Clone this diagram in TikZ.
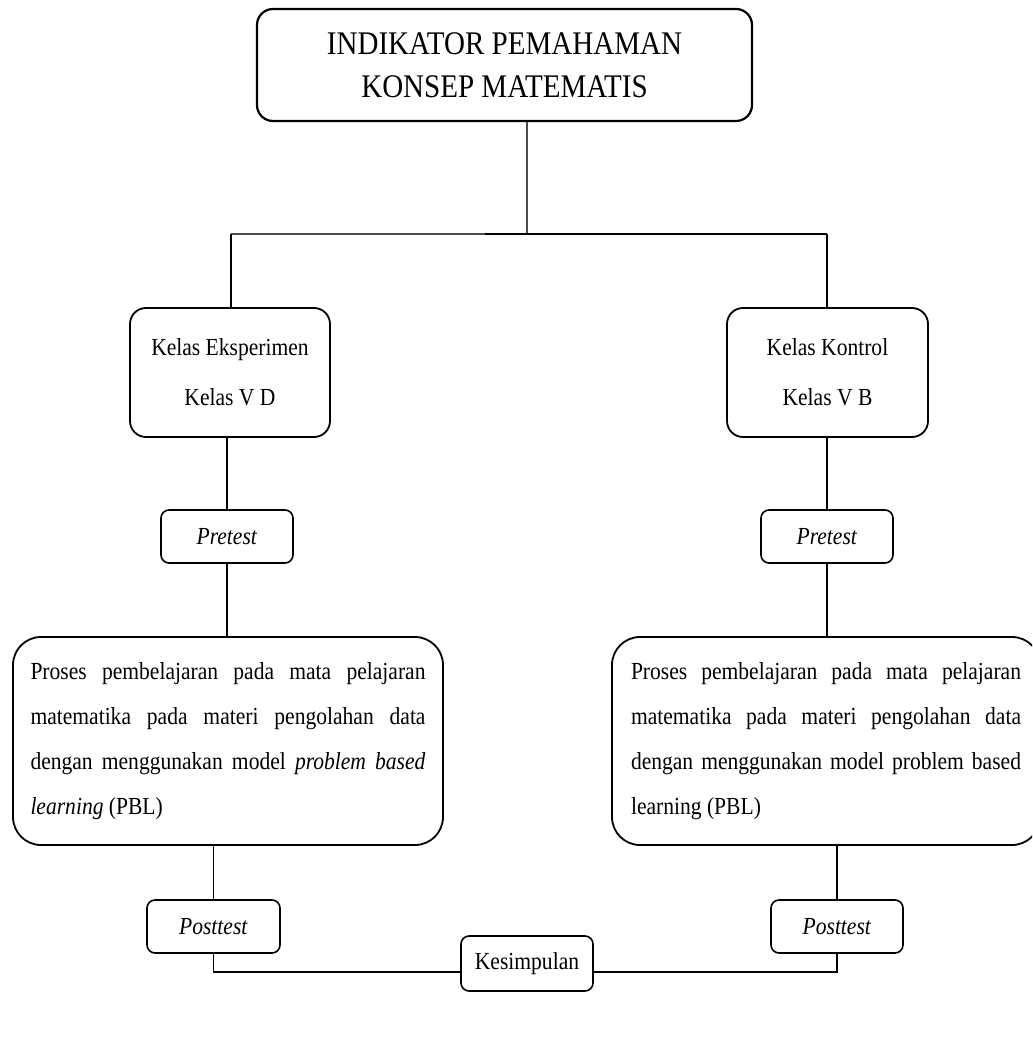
\documentclass[tikz,border=0pt]{standalone}
\usepackage{fontspec}
\setmainfont{Liberation Serif}
\newfontfamily\narrowserif{Liberation Serif}[FakeStretch=0.88]
\begin{document}
\begin{tikzpicture}[x=1pt,y=-1pt,
  conn/.style={line width=1.2pt},
  topbox/.style={draw, line width=2.2pt, rounded corners=16pt, inner sep=0pt, align=center,
    minimum width=495pt, minimum height=112pt, font={\narrowserif\fontsize{33}{43}\selectfont}},
  classbox/.style={draw, line width=1.8pt, rounded corners=16pt, inner sep=0pt, align=center,
    minimum height=129pt, font={\narrowserif\fontsize{24.5}{50}\selectfont}},
  testbox/.style={draw, line width=1.6pt, rounded corners=8pt, inner sep=0pt, align=center,
    minimum width=132pt, minimum height=53pt, font={\narrowserif\fontsize{24.5}{26}\selectfont}},
  bigbox/.style={draw, line width=1.8pt, rounded corners=28pt, inner sep=0pt, align=justify,
    minimum height=208pt, font={\narrowserif\fontsize{24.5}{45}\selectfont\hyphenpenalty=10000\tolerance=9999}},
]
\useasboundingbox (0,0) rectangle (1032,1048);
\clip (0,0) rectangle (1032,1048);

\node[topbox] (top) at (504.5,65) {INDIKATOR PEMAHAMAN\\KONSEP MATEMATIS};

\node[classbox, minimum width=200pt] (ke) at (230,372.5) {Kelas Eksperimen\\Kelas V D};
\node[classbox, minimum width=201pt] (ko) at (827.5,372.5) {Kelas Kontrol\\Kelas V B};

\node[testbox] (pre1) at (227,536.5) {\textit{Pretest}};
\node[testbox] (pre2) at (827,536.5) {\textit{Pretest}};

\node[bigbox, minimum width=430pt, text width=395pt] (big1) at (228,741)
  {Proses pembelajaran pada mata pelajaran matematika pada materi pengolahan data dengan menggunakan model \textit{problem based learning} (PBL)};
\node[bigbox, minimum width=428pt, text width=390pt] (big2) at (826,741)
  {Proses pembelajaran pada mata pelajaran matematika pada materi pengolahan data dengan menggunakan model problem based learning (PBL)};

\node[testbox, minimum width=133pt] (post1) at (213.5,926.5) {\textit{Posttest}};
\node[testbox] (post2) at (837,926.5) {\textit{Posttest}};

\node[testbox, minimum height=55pt] (kes) at (527,963.5) {Kesimpulan};

\coordinate (jl) at (231,234);
\coordinate (jm) at (527,234);
\coordinate (jr) at (827,234);
\coordinate (yb) at (0,972);

\draw[conn, black!70] (jm |- top.south) -- (jm);
\draw[conn, black!70] (jl) -- (485,234);
\draw[line width=1.6pt] (485,234) -- (jr);
\draw[conn] (jl) -- (jl |- ke.north);
\draw[conn] (jr) -- (jr |- ko.north);
\draw[conn] (pre1.north |- ke.south) -- (pre1.north);
\draw[conn] (pre2.north |- ko.south) -- (pre2.north);
\draw[conn] (pre1.south) -- (pre1.south |- big1.north);
\draw[conn] (pre2.south) -- (pre2.south |- big2.north);
\draw[conn] (post1.north |- big1.south) -- (post1.north);
\draw[conn] (post2.north |- big2.south) -- (post2.north);
\draw[conn] (post1.south) |- (kes.west |- yb);
\draw[conn] (post2.south) |- (kes.east |- yb);
\end{tikzpicture}
\end{document}
